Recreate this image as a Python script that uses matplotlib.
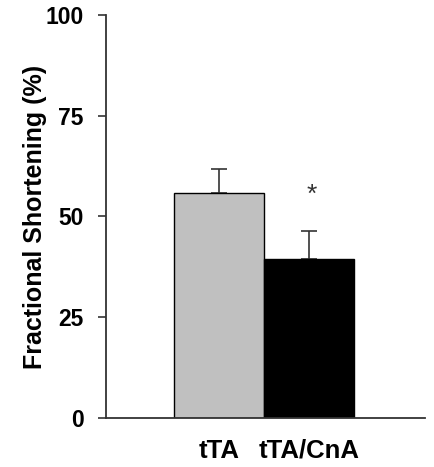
import numpy as np
import matplotlib.pyplot as plt

plt.rcParams['font.family'] = ['Liberation Sans', 'DejaVu Sans']
plt.rcParams['font.weight'] = 'bold'

# Data
groups = ['tTA', 'tTA/CnA']
values = [55.8, 39.5]
errors = [6.0, 7.0]
colors = ['#c0c0c0', '#000000']

x = np.arange(1, len(groups) + 1)

fig = plt.figure(figsize=(4.35, 4.67), dpi=100)
ax = fig.add_axes([0.2437, 0.105, 0.733, 0.863])

ax.bar(x, values, width=1.0, color=colors, edgecolor='black', linewidth=1.0, zorder=2)
ax.errorbar(x, values, yerr=[np.zeros(len(errors)), errors], fmt='none',
            ecolor='#333333', elinewidth=1.2, capsize=6, capthick=1.2, zorder=1)

# significance marker above second bar
ax.text(x[1] + 0.03, values[1] + errors[1] + 6, '*', ha='center', va='bottom',
        fontsize=19, fontweight='normal', color='#333333')

ax.set_xlim(-0.256, 3.29)
ax.set_ylim(0, 100)
ax.set_yticks([0, 25, 50, 75, 100])
ax.set_xticks(x)
ax.set_xticklabels(groups)
ax.tick_params(axis='x', length=0, pad=15, labelsize=18.5)
ax.tick_params(axis='y', length=6, width=1.2, color='#333333', pad=10, labelsize=16.5, direction='out')
ax.set_ylabel('Fractional Shortening (%)', fontsize=18, fontweight='bold', labelpad=-1)

for side in ['top', 'right']:
    ax.spines[side].set_visible(False)
for side in ['left', 'bottom']:
    ax.spines[side].set_color('#333333')
    ax.spines[side].set_linewidth(1.3)

fig.savefig('out.png', dpi=100)
